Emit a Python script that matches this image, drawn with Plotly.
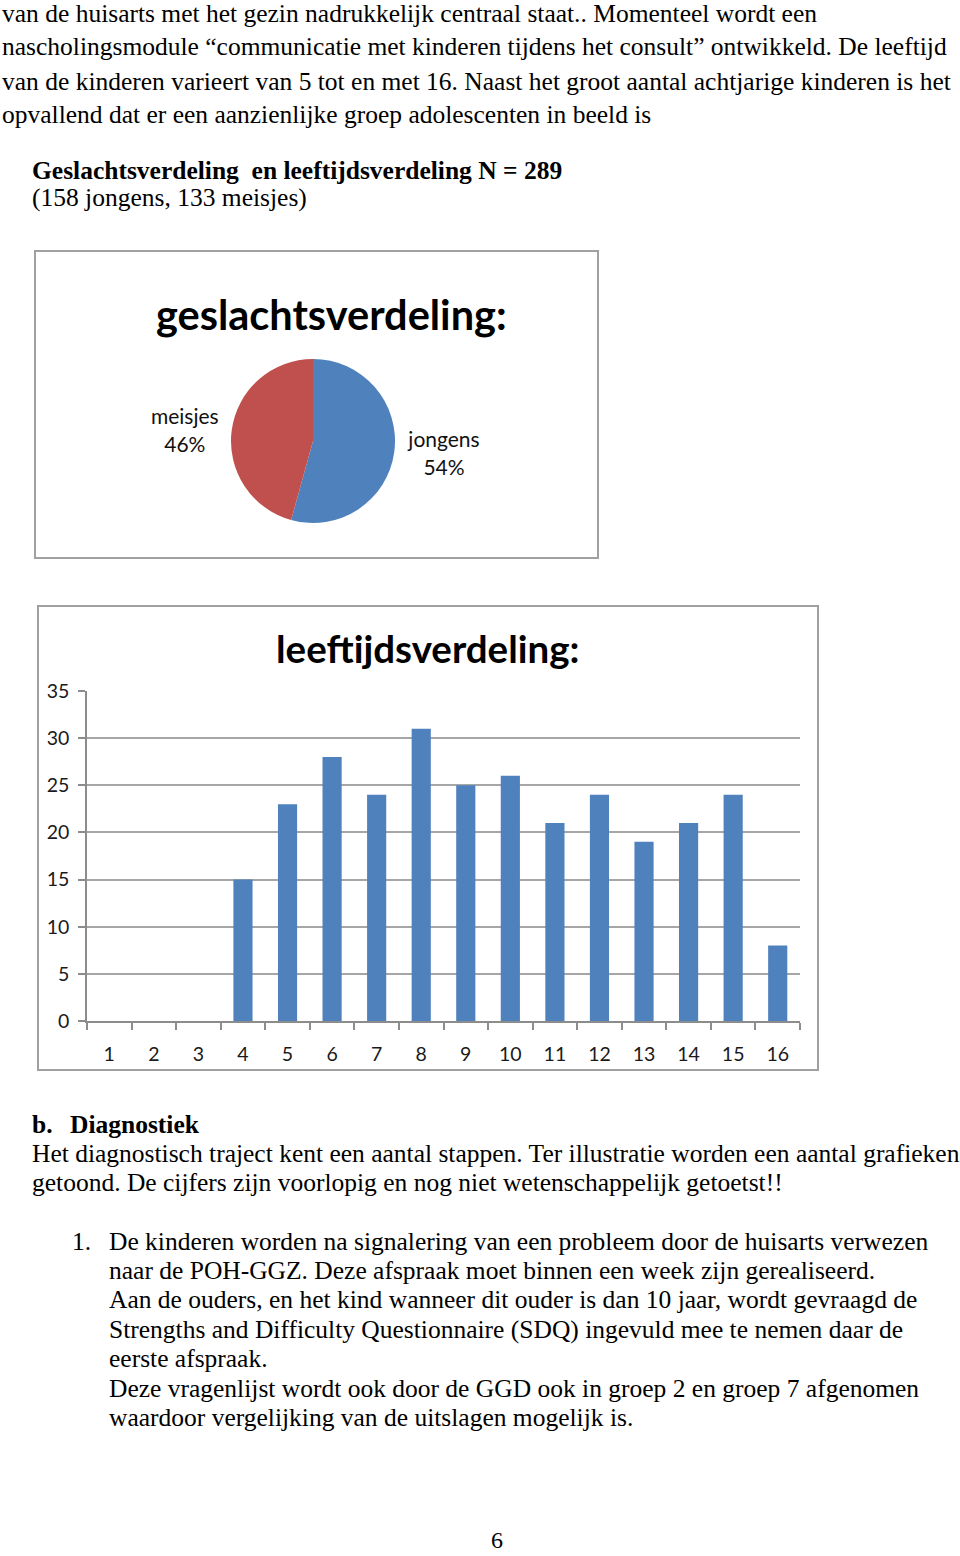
import plotly.graph_objects as go

W, H = 960, 1556

# ---------------- data ----------------
gender_labels = ["jongens", "meisjes"]
gender_counts = [158, 133]
gender_colors = ["#4F81BD", "#C0504D"]

age_categories = [str(i) for i in range(1, 17)]
age_counts = [0, 0, 0, 15, 23, 28, 24, 31, 25, 26, 21, 24, 19, 21, 24, 8]
y_ticks = [0, 5, 10, 15, 20, 25, 30, 35]

top_lines = [
    "van de huisarts met het gezin nadrukkelijk centraal staat.. Momenteel wordt een",
    "nascholingsmodule \u201ccommunicatie met kinderen tijdens het consult\u201d ontwikkeld. De leeftijd",
    "van de kinderen varieert van 5 tot en met 16. Naast het groot aantal achtjarige kinderen is het",
    "opvallend dat er een aanzienlijke groep adolescenten in beeld is",
]
heading = "Geslachtsverdeling  en leeftijdsverdeling N = 289"
subheading = "(158 jongens, 133 meisjes)"
section_letter = "b."
section_title = "Diagnostiek"
section_lines = [
    "Het diagnostisch traject kent een aantal stappen. Ter illustratie worden een aantal grafieken",
    "getoond. De cijfers zijn voorlopig en nog niet wetenschappelijk getoetst!!",
]
list_number = "1."
list_lines = [
    "De kinderen worden na signalering van een probleem door de huisarts verwezen",
    "naar de POH-GGZ. Deze afspraak moet binnen een week zijn gerealiseerd.",
    "Aan de ouders, en het kind wanneer dit ouder is dan 10 jaar, wordt gevraagd de",
    "Strengths and Difficulty Questionnaire (SDQ) ingevuld mee te nemen daar de",
    "eerste afspraak.",
    "Deze vragenlijst wordt ook door de GGD ook in groep 2 en groep 7 afgenomen",
    "waardoor vergelijking van de uitslagen mogelijk is.",
]
page_number = "6"


def X(px):
    return px / W


def Y(py):
    return 1 - py / H


SERIF = "Liberation Serif"
SANS = "Lato"
BODY = 25.5

fig = go.Figure()

# pie chart
fig.add_trace(go.Pie(
    labels=gender_labels,
    values=gender_counts,
    marker=dict(colors=gender_colors, line=dict(width=0)),
    sort=False,
    direction="clockwise",
    rotation=0,
    textposition="outside",
    texttemplate="%{label}<br>%{percent:.0%}",
    textfont=dict(family=SANS, size=21, color="#111111"),
    domain=dict(x=[X(231), X(395)], y=[Y(523), Y(359)]),
    showlegend=False,
    automargin=False,
    hoverinfo="label+value+percent",
))

# bar chart
fig.add_trace(go.Bar(
    x=age_categories,
    y=age_counts,
    marker=dict(color="#4F81BD", line=dict(width=0)),
    width=0.43,
    showlegend=False,
))

fig.update_layout(
    width=W,
    height=H,
    autosize=False,
    margin=dict(l=0, r=0, t=0, b=0, pad=0, autoexpand=False),
    paper_bgcolor="white",
    plot_bgcolor="white",
    xaxis=dict(
        domain=[X(87), X(800)],
        type="category",
        tickson="boundaries",
        ticks="outside",
        ticklen=7,
        tickcolor="#8C8C8C",
        tickwidth=1.5,
        showline=True,
        linecolor="#8C8C8C",
        linewidth=1.5,
        showgrid=False,
        automargin=False,
        ticklabelstandoff=15,
        tickfont=dict(family=SANS, size=19.5, color="#1a1a1a"),
        fixedrange=True,
    ),
    yaxis=dict(
        domain=[Y(1021), Y(691)],
        range=[0, 35],
        tickvals=y_ticks,
        ticks="outside",
        ticklen=7,
        tickcolor="#8C8C8C",
        tickwidth=1.5,
        showline=True,
        linecolor="#8C8C8C",
        linewidth=1.5,
        showgrid=True,
        gridcolor="#A6A6A6",
        gridwidth=1.5,
        zeroline=False,
        automargin=False,
        ticklabelstandoff=5,
        tickfont=dict(family=SANS, size=19.5, color="#1a1a1a"),
        fixedrange=True,
    ),
)

shapes = [
    dict(type="rect", xref="paper", yref="paper",
         x0=X(35), x1=X(598), y0=Y(558), y1=Y(251),
         line=dict(color="#A0A0A0", width=2), fillcolor="rgba(0,0,0,0)", layer="below"),
    dict(type="rect", xref="paper", yref="paper",
         x0=X(38), x1=X(818), y0=Y(1070), y1=Y(606),
         line=dict(color="#A0A0A0", width=2), fillcolor="rgba(0,0,0,0)", layer="below"),
]
fig.update_layout(shapes=shapes)

ann = []


def text(px, py, s, size=BODY, family=SERIF, xanchor="left", bold=False, color="black"):
    ann.append(dict(
        x=X(px), y=Y(py), xref="paper", yref="paper",
        text=("<b>%s</b>" % s) if bold else s,
        showarrow=False, xanchor=xanchor, yanchor="middle",
        font=dict(family=family, size=size, color=color),
    ))


for i, line in enumerate(top_lines):
    text(0, 13 + i * 34, line)
text(30, 170, heading, bold=True)
text(30, 198, subheading)

# chart titles
text(331, 314, "geslachtsverdeling:", size=41.5, family=SANS, xanchor="center", bold=True)
text(427, 648, "leeftijdsverdeling:", size=38.5, family=SANS, xanchor="center", bold=True)

text(30, 1124, section_letter, bold=True)
text(68, 1124, section_title, bold=True)
text(30, 1153, section_lines[0])
text(30, 1182, section_lines[1])

text(70, 1241, list_number)
for i, line in enumerate(list_lines):
    text(107, 1241 + i * 29.4, line)

text(497, 1540, page_number, size=24, xanchor="center")

fig.update_layout(annotations=ann)

fig.write_html("out.html")
